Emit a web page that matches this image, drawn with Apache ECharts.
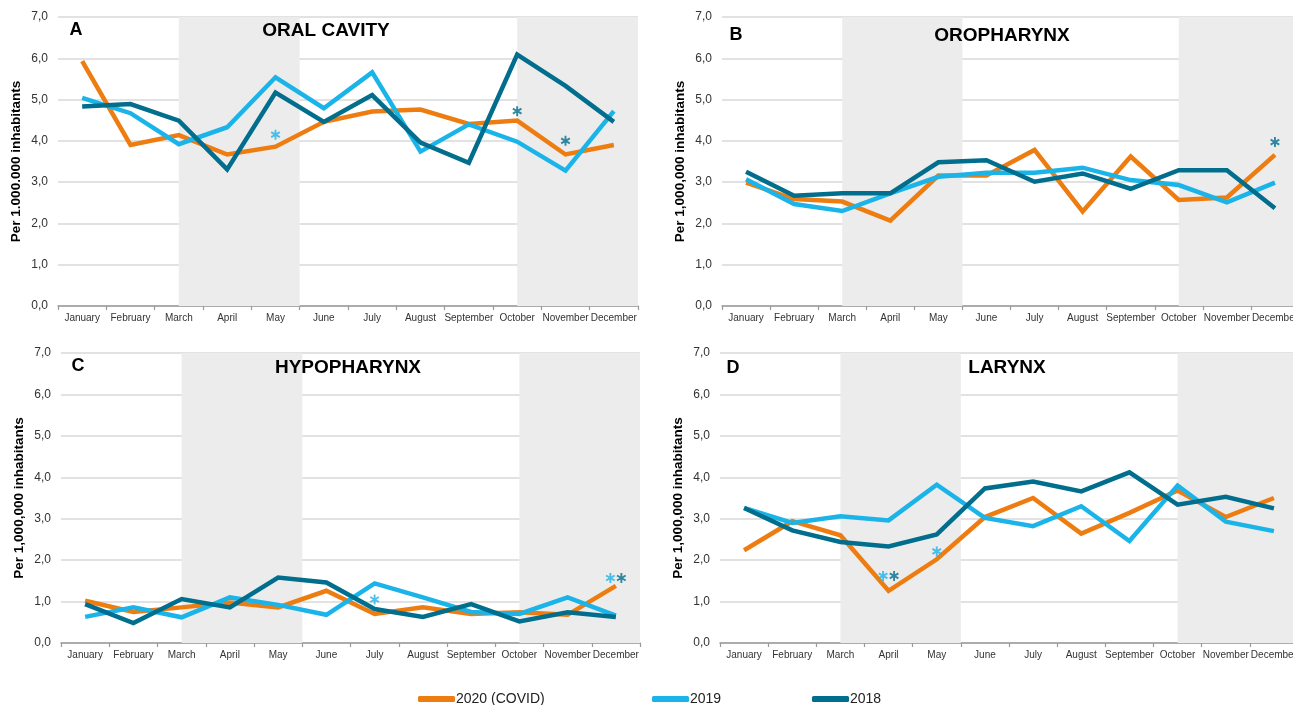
<!DOCTYPE html>
<html><head><meta charset="utf-8">
<script src="https://cdn.jsdelivr.net/npm/echarts@6/dist/echarts.min.js"></script>
<style>html,body{margin:0;padding:0;background:#fff;overflow:hidden}#c{width:1293px;height:705px}</style>
</head><body><div id="c"></div>
<script>
// ---------- DATA ----------
const months = ['January','February','March','April','May','June','July','August','September','October','November','December'];
const seriesNames = ['2020 (COVID)', '2019', '2018'];
const shadeRanges = [['March', 'May'], ['October', 'December']];
const yTicks = [0, 1, 2, 3, 4, 5, 6, 7];

const oral2020 = [5.93, 3.90, 4.14, 3.67, 3.86, 4.46, 4.71, 4.76, 4.41, 4.49, 3.67, 3.90];
const oral2019 = [5.04, 4.67, 3.92, 4.33, 5.54, 4.79, 5.66, 3.74, 4.40, 3.98, 3.28, 4.72];
const oral2018 = [4.83, 4.89, 4.49, 3.31, 5.17, 4.46, 5.11, 3.96, 3.47, 6.09, 5.33, 4.46];
const oralStars2019 = [['May', 4.15]];
const oralStars2018 = [['October', 4.72], ['November', 4.00]];

const oro2020 = [2.99, 2.59, 2.53, 2.07, 3.16, 3.16, 3.78, 2.29, 3.62, 2.57, 2.63, 3.66];
const oro2019 = [3.07, 2.47, 2.30, 2.73, 3.13, 3.23, 3.23, 3.35, 3.05, 2.93, 2.51, 2.99];
const oro2018 = [3.25, 2.67, 2.73, 2.73, 3.48, 3.53, 3.01, 3.21, 2.84, 3.29, 3.29, 2.37];
const oroStars2019 = [];
const oroStars2018 = [['December', 3.97]];

const hypo2020 = [1.02, 0.75, 0.86, 0.98, 0.86, 1.26, 0.70, 0.86, 0.70, 0.74, 0.68, 1.38];
const hypo2019 = [0.63, 0.86, 0.62, 1.10, 0.92, 0.68, 1.44, 1.10, 0.75, 0.70, 1.10, 0.66];
const hypo2018 = [0.94, 0.48, 1.06, 0.86, 1.58, 1.46, 0.82, 0.63, 0.94, 0.52, 0.74, 0.63];
const hypoStars2019 = [['July', 1.05], ['December', 1.57]];
const hypoStars2018 = [['December', 1.57]];

const lar2020 = [2.24, 2.94, 2.60, 1.26, 2.02, 3.04, 3.50, 2.64, 3.14, 3.68, 3.04, 3.50];
const lar2019 = [3.26, 2.90, 3.06, 2.96, 3.82, 3.02, 2.82, 3.30, 2.46, 3.80, 2.93, 2.70];
const lar2018 = [3.26, 2.72, 2.44, 2.33, 2.62, 3.73, 3.90, 3.66, 4.12, 3.34, 3.53, 3.25];
const larStars2019 = [['April', 1.62], ['May', 2.21]];
const larStars2018 = [['April', 1.62]];

// ---------- STYLE / LAYOUT ----------
const colors = ['#EE7D11', '#1BB4E9', '#006E8C'];
const narrow = "'Liberation Sans Narrow', 'Arial Narrow', 'Liberation Sans', Arial, sans-serif";
const sans = "'Liberation Sans', Arial, sans-serif";
const asterisk = 'path://M-1.9,-10L1.9,-10L1.9,10L-1.9,10ZM7.71,-6.65L9.61,-3.35L-7.71,6.65L-9.61,3.35ZM9.61,3.35L7.71,6.65L-9.61,-3.35L-7.71,-6.65Z';

const panels = [
  { letter: 'A', title: 'ORAL CAVITY', yName: 'Per 1.000.000 inhabitants', lines: [oral2020, oral2019, oral2018], s19: oralStars2019, s18: oralStars2018,
    grid: { left: 58, top: 17, width: 580, height: 289 }, letterPos: [76, 30], titlePos: [326, 31] },
  { letter: 'B', title: 'OROPHARYNX', yName: 'Per 1,000,000 inhabitants', lines: [oro2020, oro2019, oro2018], s19: oroStars2019, s18: oroStars2018,
    grid: { left: 722, top: 17, width: 577, height: 289 }, letterPos: [736, 35], titlePos: [1002, 36] },
  { letter: 'C', title: 'HYPOPHARYNX', yName: 'Per 1,000,000 inhabitants', lines: [hypo2020, hypo2019, hypo2018], s19: hypoStars2019, s18: hypoStars2018,
    grid: { left: 61, top: 353, width: 579, height: 290 }, letterPos: [78, 366], titlePos: [348, 368] },
  { letter: 'D', title: 'LARYNX', yName: 'Per 1,000,000 inhabitants', lines: [lar2020, lar2019, lar2018], s19: larStars2019, s18: larStars2018,
    grid: { left: 720, top: 353, width: 578, height: 290 }, letterPos: [733, 368], titlePos: [1007, 368] }
];

const grids = [], xAxes = [], yAxes = [], series = [], graphics = [];
panels.forEach((p, k) => {
  grids.push(Object.assign({ outerBoundsMode: 'none', containLabel: false }, p.grid));
  xAxes.push({
    type: 'category', gridIndex: k, data: months, boundaryGap: true,
    axisLine: { lineStyle: { color: '#9a9a9a', width: 1.5 } },
    axisTick: { show: true, length: 4, lineStyle: { color: '#9a9a9a', width: 1.2 } },
    axisLabel: { interval: 0, fontSize: 10, color: '#333', fontFamily: narrow, margin: 7 },
    splitLine: { show: false }
  });
  xAxes.push({ type: 'value', gridIndex: k, min: -0.5, max: 11.5, show: false });
  yAxes.push({
    type: 'value', gridIndex: k, min: yTicks[0], max: yTicks[yTicks.length - 1], interval: 1,
    name: p.yName, nameLocation: 'middle', nameRotate: 90, nameGap: 35,
    nameTextStyle: { fontSize: 13.5, fontWeight: 'bold', color: '#000', fontFamily: sans },
    axisLine: { show: false }, axisTick: { show: false },
    axisLabel: { fontSize: 12, color: '#333', fontFamily: narrow, margin: 10,
      formatter: v => v.toFixed(1).replace('.', ',') },
    splitLine: { lineStyle: { color: '#d9d9d9', width: 1.5 } }
  });
  // shading
  series.push({
    type: 'line', xAxisIndex: 2 * k + 1, yAxisIndex: k, data: [[0, 0]], showSymbol: false, silent: true,
    lineStyle: { opacity: 0 }, z: -1, name: '_shade' + k,
    markArea: { silent: true, itemStyle: { color: '#ececec' },
      data: shadeRanges.map(r => [{ xAxis: months.indexOf(r[0]) }, { xAxis: months.indexOf(r[1]) + 0.5 }]) }
  });
  p.lines.forEach((vals, i) => {
    series.push({
      type: 'line', name: seriesNames[i], xAxisIndex: 2 * k, yAxisIndex: k, data: vals,
      symbol: 'none', lineStyle: { width: 4.5, color: colors[i], join: 'miter' }, itemStyle: { color: colors[i] },
      z: 3 + i
    });
  });
  const both = p.s19.map(s => s[0]).filter(m => p.s18.some(t => t[0] === m));
  [[p.s19, 1, -5.5], [p.s18, 2, 5.5]].forEach(([stars, ci, off]) => {
    series.push({
      type: 'scatter', name: seriesNames[ci] + ' *', xAxisIndex: 2 * k, yAxisIndex: k,
      symbol: asterisk, symbolSize: 10, symbolKeepAspect: true, silent: true, z: 10,
      itemStyle: { color: colors[ci] },
      data: stars.map(s => ({ value: s, symbolOffset: both.includes(s[0]) ? [off, 0] : [0, 0] }))
    });
  });
  graphics.push({ type: 'text', x: p.letterPos[0], y: p.letterPos[1], z: 100,
    style: { text: p.letter, align: 'center', verticalAlign: 'middle', fill: '#000', font: 'bold 18px ' + sans } });
  graphics.push({ type: 'text', x: p.titlePos[0], y: p.titlePos[1], z: 100,
    style: { text: p.title, align: 'center', verticalAlign: 'middle', fill: '#000', font: 'bold 19px ' + sans } });
});

const legendLefts = [413, 647, 807];
const legends = seriesNames.map((n, i) => ({
  data: [n], left: legendLefts[i], top: 687, icon: 'roundRect', itemWidth: 37, itemHeight: 6, itemGap: 0,
  textStyle: { fontSize: 14, color: '#222', fontFamily: sans, padding: [0, 0, 0, -4] }, selectedMode: false
}));

const chart = echarts.init(document.getElementById('c'), null, { renderer: 'canvas' });
chart.setOption({
  backgroundColor: '#fff', animation: false,
  grid: grids, xAxis: xAxes, yAxis: yAxes, series: series, legend: legends, graphic: graphics
});
</script></body></html>
